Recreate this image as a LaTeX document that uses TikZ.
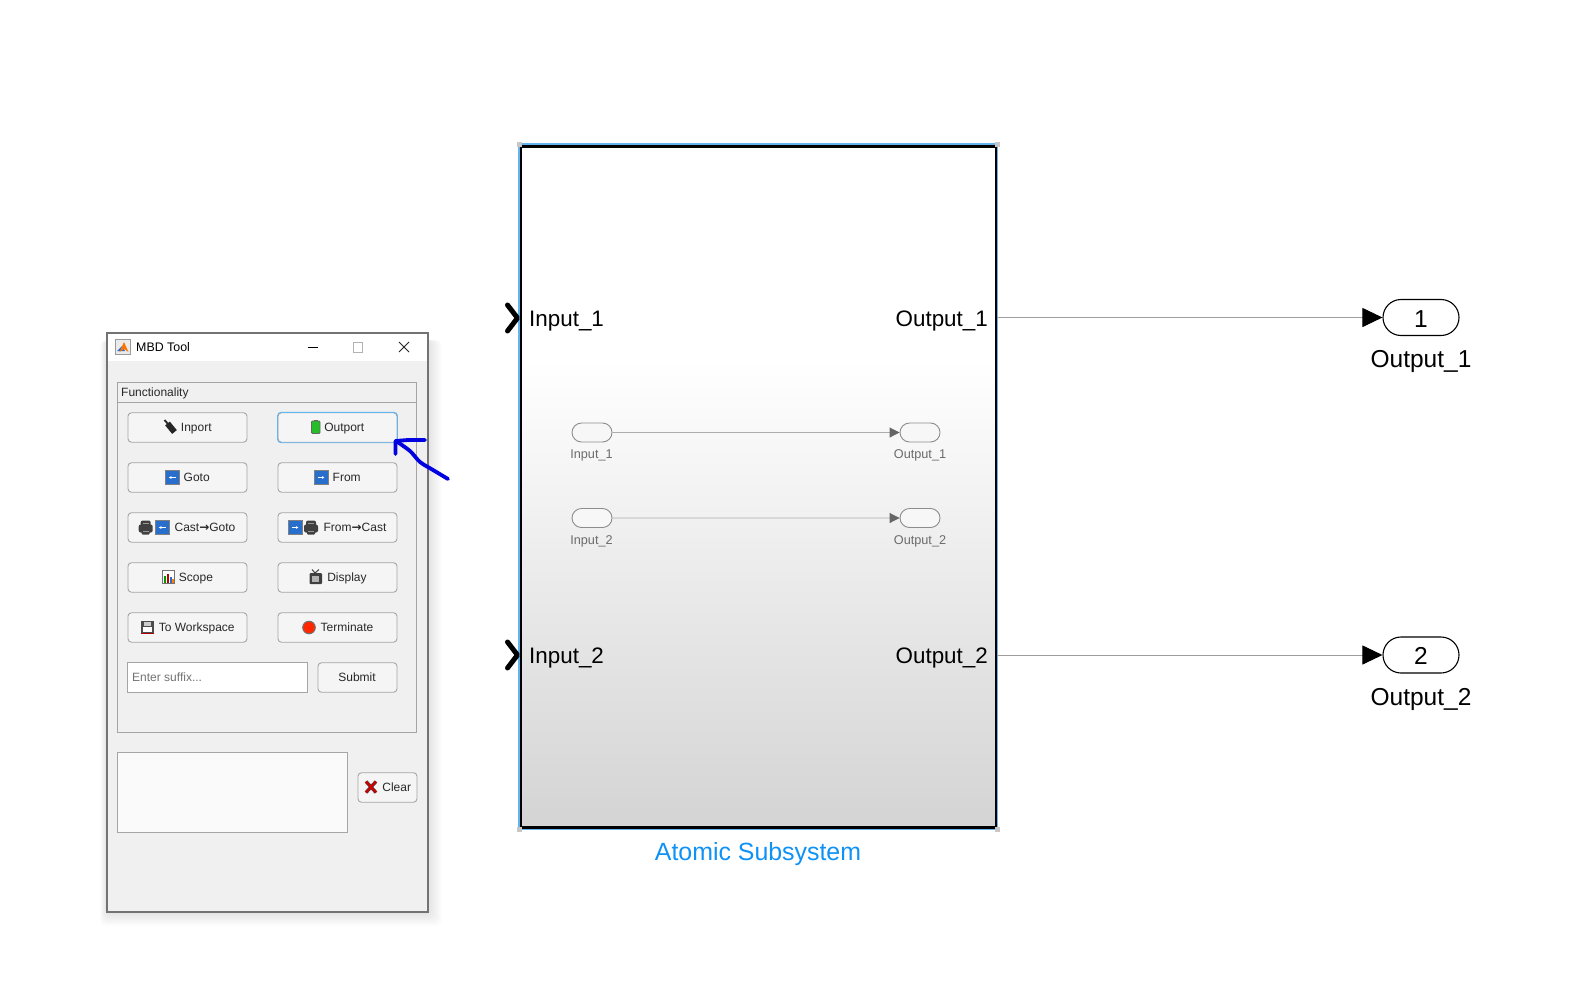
\documentclass[tikz,border=0pt]{standalone}
\usepackage{xcolor}
\usepackage{fontspec}
\setmainfont{Liberation Sans}
\newfontfamily\symfont{DejaVu Sans}
\usetikzlibrary{shapes.misc, positioning, arrows.meta, calc}
\definecolor{WinGray}{RGB}{240,240,240}
\definecolor{BtnGray}{RGB}{245,245,245}
\definecolor{EdgeGray}{RGB}{165,165,165}
\definecolor{TextDark}{RGB}{40,40,40}
\definecolor{SelBlue}{RGB}{100,180,240}
\definecolor{TagBlue}{RGB}{40,110,205}
\definecolor{InkBlue}{RGB}{0,0,225}
\definecolor{NameBlue}{RGB}{15,145,245}
\newcommand{\fsz}[1]{\fontsize{#1}{#1}\selectfont}
\newcommand{\castarrow}{{\symfont\bfseries\fsz{12}→}}
\tikzset{
  gotag/.pic={
    \fill[TagBlue] (-6.5,-6.5) rectangle (6.5,6.5);
    \draw[gray, line width=0.9] (-7,-7) rectangle (7,7);
    \draw[white, line width=0.9, -{Latex[length=2.5,width=3]}] (3.5,0) -- (-3.5,0);
  },
  fromtag/.pic={
    \fill[TagBlue] (-6.5,-6.5) rectangle (6.5,6.5);
    \draw[gray, line width=0.9] (-7,-7) rectangle (7,7);
    \draw[white, line width=0.9, -{Latex[length=2.5,width=3]}] (-3.5,0) -- (3.5,0);
  },
  casticon/.pic={
    \fill[black!75, rounded corners=2] (-7,-3) rectangle (7,5);
    \fill[black!75, rounded corners=2] (-5,-7) rectangle (5,-1);
    \fill[black!75, rounded corners=1] (-4,3) rectangle (4,7);
    \fill[black!40] (-3,3.5) rectangle (3,4.3);
    \fill[black!40] (-3,-4.5) rectangle (3,-3.7);
  }
}
\begin{document}
\begin{tikzpicture}[x=1pt, y=-1pt,
    winframe/.style={draw=black!55, line width=1.3, fill=WinGray, minimum width=321,
                     minimum height=579, inner sep=0},
    panelbox/.style={draw=EdgeGray, line width=0.9, inner sep=0},
    btn/.style={draw=EdgeGray, line width=0.9, fill=BtnGray, rounded corners=3.5,
                minimum width=119, minimum height=29.5, inner sep=0},
    btntext/.style={font=\fsz{12}, text=TextDark, text height=10, text depth=2, inner sep=0},
    subsys/.style={draw=black, line width=2.4, minimum width=475, minimum height=681, inner sep=0},
    portname/.style={font=\fsz{22.4}, text=black, text height=20, text depth=3, inner sep=0},
    outname/.style={font=\fsz{24.5}, text=black, text height=20, text depth=5, inner sep=0},
    innername/.style={font=\fsz{12.7}, text=black!58, text height=10, text depth=2, inner sep=0},
    innerpill/.style={rounded rectangle, draw=black!45, line width=0.9, fill=white!97!black,
                      minimum width=40, minimum height=19, inner sep=0},
    outpill/.style={rounded rectangle, draw=black, line width=1.1, fill=white, text height=19, text depth=0,
                    minimum width=76, minimum height=36, inner sep=0, font=\fsz{24.5}},
    sigline/.style={draw=black!38, line width=0.9, -{Triangle[length=20,width=19,fill=black,color=black]}},
    innerline/.style={draw=black!32, line width=0.9, -{Triangle[length=10,width=10,fill=black!60,color=black!60]}},
    chevron/.style={line width=5, line cap=round, line join=round}
  ]
  \useasboundingbox (0,0) rectangle (1576,998);
  \fill[white] (0,0) rectangle (1576,998);

  % window shadow
  \foreach \s in {1,...,14} {
    \fill[black, opacity=0.009, rounded corners=6] ($(107,340)+(-\s*0.5,0)$) rectangle ($(428,912)+(\s,\s)$);
  }
  % MBD window
  \node[winframe] (mbdwin) at (267.5,622.5) {};
  \fill[white] (108,334) rectangle (427,361);
  \fill[black!8] (115.5,339.5) rectangle (130,354.5);
  \draw[black!40, line width=0.8] (115.5,339.5) rectangle (130,354.5);
  \fill[TagBlue] (117,351) -- (122,346) -- (125,351) -- cycle;
  \fill[orange!90!red] (119.5,352) -- (124,342) -- (128.5,352) -- (124,349) -- cycle;
  \node[btntext, font=\fsz{12.4}, text=black, anchor=west] (wintitle) at (136,347) {MBD Tool};
  \draw[black, line width=0.9] (307.5,347) -- (318,347);
  \draw[black!30, line width=0.9] (353,342.5) rectangle (362.5,352);
  \draw[black!85, line width=0.9] (399,342) -- (409,352) (409,342) -- (399,352);

  % Functionality panel
  \node[panelbox, minimum width=299, minimum height=349.5] (panel) at (267.25,557.25) {};
  \draw[EdgeGray, line width=0.9] (117.5,402.5) -- (417,402.5);
  \node[btntext, anchor=west] (paneltitle) at (121,392) {Functionality};

  \foreach \nm/\x/\y/\tx/\txt in {
      inport/187.5/427.5/196.3/Inport, outport/337.5/427.5/344.3/Outport,
      goto/187.5/477.5/196.7/Goto, from/337.5/477.5/346.7/From,
      castgoto/187.5/527.5/205/Cast\castarrow Goto, fromcast/337.5/527.5/355/From\castarrow Cast,
      scope/187.5/577.5/196/Scope, display/337.5/577.5/347/Display,
      towork/187.5/627.5/196.7/To Workspace, term/337.5/627.5/347/Terminate} {
    \node[btn] (\nm) at (\x,\y) {};
    \node[btntext] (\nm text) at (\tx,\y) {\txt};
  }
  \draw[SelBlue, line width=0.9, rounded corners=3.5] (outport.south west) rectangle (outport.north east);

  % button icons
  \draw[black!85, line width=1.8] (164.5,420) -- (168.5,424.5);
  \draw[black!85, line width=6] (167.5,423.5) -- (174.5,432);
  \fill[black!60] (313.5,419.5) rectangle (318,421);
  \fill[green!70!black!85, draw=black!60, line width=0.8, rounded corners=1] (311.5,421) rectangle (320,433.5);
  \pic at (172.3,477.5) {gotag};
  \pic at (321,477.5) {fromtag};
  \pic at (145.7,527.5) {casticon};
  \pic at (162.3,527.5) {gotag};
  \pic at (295,527.5) {fromtag};
  \pic at (311,527.5) {casticon};
  \draw[black!55, fill=white, line width=0.9] (162,570.5) rectangle (174.5,583.5);
  \fill[green!60!black] (163.5,576) rectangle (165.5,583);
  \fill[red!75!black] (166.5,574) rectangle (168.5,583);
  \fill[TagBlue] (169.5,577) rectangle (171.5,583);
  \fill[orange] (172,579) rectangle (174,583);
  \fill[black!75, rounded corners=1] (309.5,573) rectangle (322,584);
  \fill[black!30] (311.5,575.5) rectangle (318.5,581.5);
  \draw[black!75, line width=1] (312,569.5) -- (315,573) -- (319,569.5);
  \fill[black!70] (141,621) rectangle (153.5,633.5);
  \fill[white] (142.5,627) rectangle (152,632);
  \fill[black!20] (144,622) rectangle (150.5,625.5);
  \fill[red!70!black] (141,632.5) rectangle (153.5,633.5);
  \fill[red!70!orange, draw=black!55, line width=1] (309,627.5) circle (6.3);

  % suffix row
  \node[panelbox, fill=white, minimum width=179.5, minimum height=29.5] (suffix) at (217.25,677.25) {};
  \node[btntext, text=black!55, anchor=west] (suffixtext) at (132,677.5) {Enter suffix...};
  \node[btn, minimum width=79] (submit) at (357.5,677.5) {};
  \node[btntext, text=black!85] (submittext) at (357,677.5) {Submit};

  % log box
  \node[panelbox, fill=white!98!black, minimum width=229.5, minimum height=79.5] (logbox) at (232.25,792.25) {};
  \node[btn, minimum width=59] (clear) at (387.5,787.5) {};
  \node[btntext] (cleartext) at (396.7,787.5) {Clear};
  \draw[black!70, line width=3.4] (366,781.5) -- (376,792.5) (376,781.5) -- (366,792.5);
  \draw[red!80!black, line width=2.2] (366,781.5) -- (376,792.5) (376,781.5) -- (366,792.5);

  % hand drawn arrow
  \draw[InkBlue, line width=3.8, line cap=round, line join=round]
    plot[smooth, tension=0.5] coordinates {(448,479) (433,470) (420,462) (410,451) (396,441)};
  \draw[InkBlue, line width=3.8, line cap=round, line join=round]
    (395.5,454) -- (395.5,441) -- (408,440) -- (425,440);

  % Atomic Subsystem block
  \fill[white] (521,146) rectangle (996,360);
  \shade[top color=white, bottom color=black!17] (521,360) rectangle (996,827);
  \draw[SelBlue, line width=1.8] (519,144) rectangle (997,829);
  \node[subsys] (atomic) at (758.5,487) {};
  \foreach \cx/\cy in {519/144, 997/144, 519/829, 997/829} {
    \fill[black!22] (\cx-2.5,\cy-2.5) rectangle (\cx+2.5,\cy+2.5);
  }
  \draw[chevron] (507.5,305) -- (517.5,318) -- (507.5,331);
  \draw[chevron] (507.5,642) -- (517.5,655) -- (507.5,668);
  \node[portname, anchor=west] (in1) at (529,318) {Input\_1};
  \node[portname, anchor=west] (in2) at (529,655) {Input\_2};
  \node[portname, anchor=east] (out1) at (988,318) {Output\_1};
  \node[portname, anchor=east] (out2) at (988,655) {Output\_2};
  \node[font=\fsz{24.9}, text=NameBlue, inner sep=0, text height=21, text depth=4] (atomicname) at (758,852) {Atomic Subsystem};

  % inner ports
  \foreach \i/\y in {1/432.5, 2/518} {
    \node[innerpill] (inpill\i) at (592,\y) {};
    \node[innerpill] (outpill\i) at (920,\y) {};
    \draw[innerline] (inpill\i) -- (outpill\i);
    \node[innername] (inlab\i) at (591.5,\y+22) {Input\_\i};
    \node[innername] (outlab\i) at (920,\y+22) {Output\_\i};
  }

  % output ports
  \foreach \i/\y in {1/317.5, 2/655} {
    \node[outpill] (oport\i) at (1421,\y) {\i};
    \node[outname] (oname\i) at (1421,\y+42.5) {Output\_\i};
    \draw[sigline] (atomic.east |- oport\i) -- (oport\i);
  }
\end{tikzpicture}
\end{document}
